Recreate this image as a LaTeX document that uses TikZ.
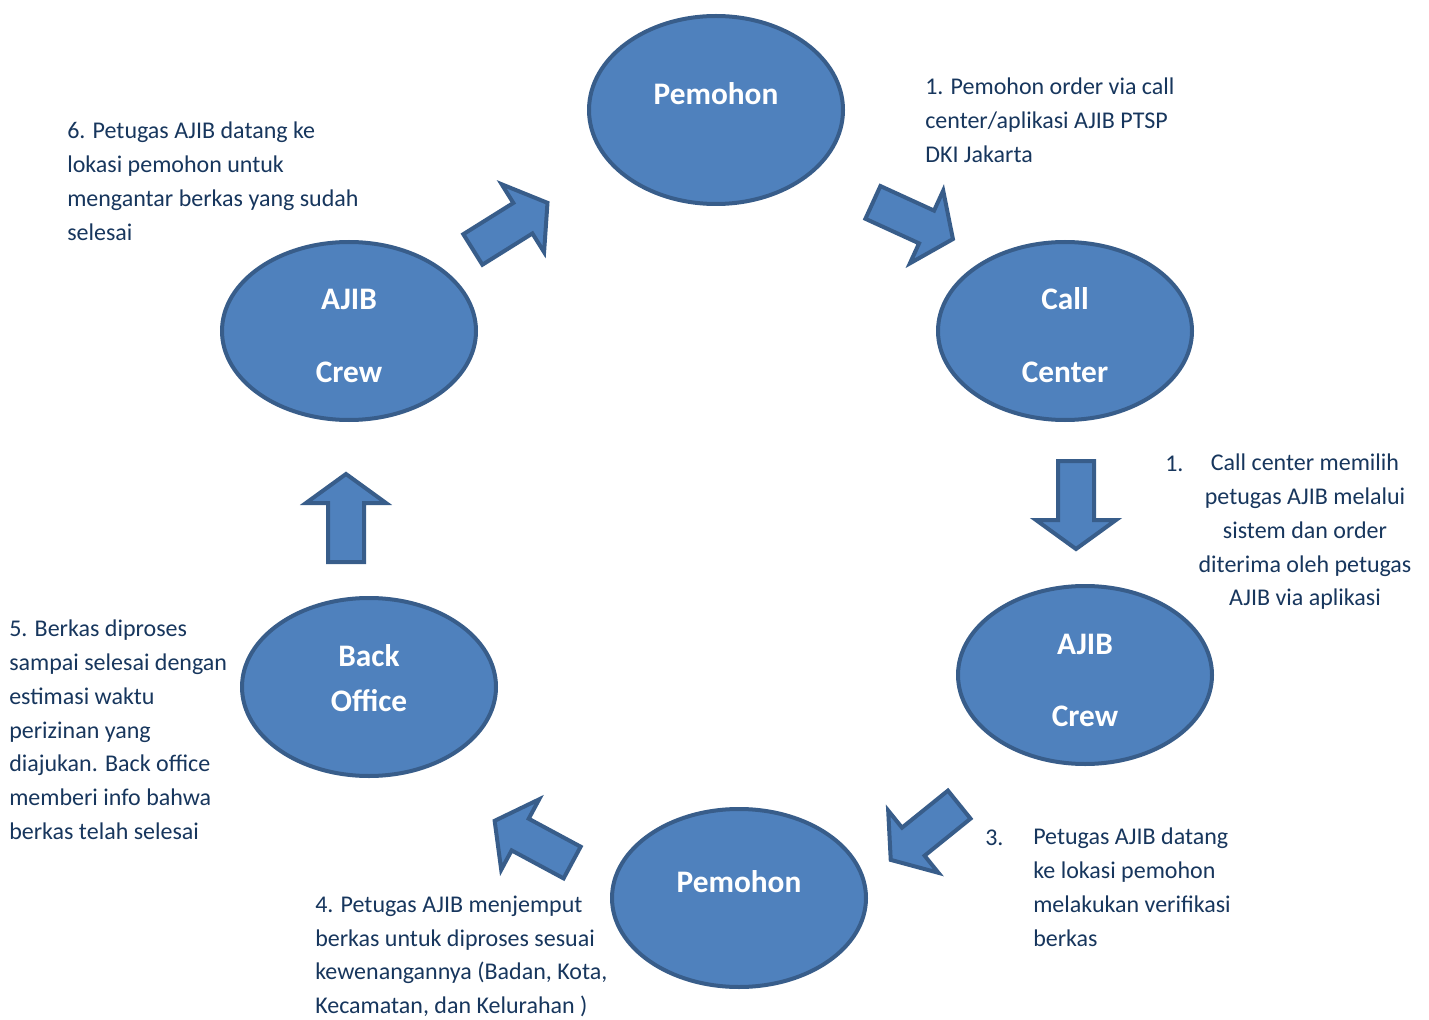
\documentclass[tikz,border=0pt]{standalone}
\usepackage{fontspec}
\setmainfont{Carlito}
\usepackage{tikz}
\usetikzlibrary{shapes.geometric}
\usepackage{xcolor}
\definecolor{bubblefill}{HTML}{4F81BD}
\definecolor{bubbleline}{HTML}{385D8A}
\definecolor{notecolor}{HTML}{17365D}

\begin{document}
\begin{tikzpicture}[x=0.75pt,y=-0.75pt,
  bubble/.style={ellipse,draw=bubbleline,fill=bubblefill,line width=3pt,
    minimum width=190.5pt,minimum height=133.5pt,inner sep=0pt},
  bubtext/.style={anchor=base,text=white,font=\fontsize{23.5}{28}\selectfont\bfseries,inner sep=0pt},
  note/.style={anchor=base west,text=notecolor,align=left,inner sep=0pt,
    font=\fontsize{18}{25.3}\selectfont},
  bigarrow/.pic={
    \draw[draw=bubbleline,fill=bubblefill,line width=3pt,line join=miter]
      (1,18) -- (60,18) -- (60,40) -- (89,0) -- (60,-40) -- (60,-18) -- (1,-18) -- cycle;
  }]
  \useasboundingbox (0,0) rectangle (1429,1020);

  \node[bubble,minimum height=141pt] (pemTop) at (716,110) {};
  \node[bubble] (call) at (1065,331) {};
  \node[bubble] (crewR) at (1085,675) {};
  \node[bubble] (pemBot) at (739,898) {};
  \node[bubble] (back) at (369,687) {};
  \node[bubble] (crewL) at (349,331) {};

  \node[bubtext] (pemTopTxt) at (716,105) {Pemohon};
  \node[bubtext] (callTxtA) at (1065,310) {Call};
  \node[bubtext] (callTxtB) at (1065,382) {Center};
  \node[bubtext] (crewRTxtA) at (1085,654) {AJIB};
  \node[bubtext] (crewRTxtB) at (1085,726) {Crew};
  \node[bubtext] (pemBotTxt) at (739,892) {Pemohon};
  \node[bubtext] (backTxtA) at (369,666) {Back};
  \node[bubtext] (backTxtB) at (369,711) {Office};
  \node[bubtext] (crewLTxtA) at (349,310) {AJIB};
  \node[bubtext] (crewLTxtB) at (349,382) {Crew};

  \pic[rotate=-24.6] at (872,202) {bigarrow};
  \pic[rotate=-90] at (1076,460) {bigarrow};
  \pic[rotate=218.9] at (960,804) {bigarrow};
  \pic[rotate=151.7] at (573,863) {bigarrow};
  \pic[rotate=90] at (346,563) {bigarrow};
  \pic[rotate=32] at (472,250) {bigarrow};

  \node[note] (step1) at (925,162.4) {1. Pemohon order via call\\center/aplikasi AJIB PTSP\\DKI Jakarta};
  \node[note] (step2num) at (1165,471) {1.};
  \node[note,anchor=base,align=center] (step2) at (1305,605.8) {Call center memilih\\petugas AJIB melalui\\sistem dan order\\diterima oleh petugas\\AJIB via aplikasi};
  \node[note] (step3num) at (985,845) {3.};
  \node[note] (step3) at (1033,946.1) {Petugas AJIB datang\\ke lokasi pemohon\\melakukan verifikasi\\berkas};
  \node[note] (step4) at (315,1013.5) {4. Petugas AJIB menjemput\\berkas untuk diproses sesuai\\kewenangannya (Badan, Kota,\\Kecamatan, dan Kelurahan )};
  \node[note] (step5) at (9,839.2) {5. Berkas diproses\\sampai selesai dengan\\estimasi waktu\\perizinan yang\\diajukan. Back office\\memberi info bahwa\\berkas telah selesai};
  \node[note] (step6) at (67,240.1) {6. Petugas AJIB datang ke\\lokasi pemohon untuk\\mengantar berkas yang sudah\\selesai};
\end{tikzpicture}
\end{document}
